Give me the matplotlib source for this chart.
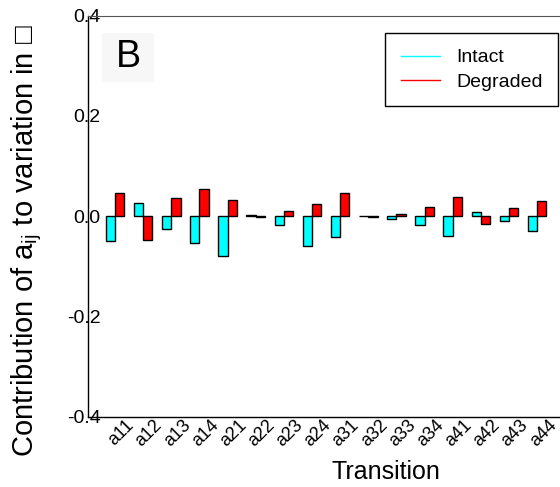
import numpy as np
import matplotlib
matplotlib.use('Agg')
import matplotlib.pyplot as plt
import matplotlib.transforms as mtransforms
from matplotlib.patches import Rectangle

plt.rcParams['font.family'] = ['Liberation Sans', 'DejaVu Sans']
plt.rcParams['mathtext.fontset'] = 'custom'
plt.rcParams['mathtext.rm'] = 'Liberation Sans'
plt.rcParams['mathtext.it'] = 'Liberation Sans:italic'
plt.rcParams['mathtext.fallback'] = 'stixsans'

# dane
przejscia = ['a11', 'a12', 'a13', 'a14', 'a21', 'a22', 'a23', 'a24',
             'a31', 'a32', 'a33', 'a34', 'a41', 'a42', 'a43', 'a44']
intact = [-0.049, 0.027, -0.026, -0.053, -0.080, 0.002, -0.017, -0.060,
          -0.041, 0.0008, -0.005, -0.017, -0.039, 0.008, -0.010, -0.029]
degraded = [0.047, -0.047, 0.037, 0.054, 0.032, -0.002, 0.010, 0.025,
            0.047, -0.0008, 0.005, 0.019, 0.038, -0.015, 0.016, 0.030]
y_ticks = [-0.4, -0.2, 0.0, 0.2, 0.4]

fig = plt.figure(figsize=(5.6, 4.87), dpi=100)
ax = fig.add_axes([0.157, 0.144, 0.843, 0.824])

x = np.arange(len(przejscia))
w = 0.33
ax.bar(x - w/2, intact, w, color='#00ffff', edgecolor='black', linewidth=1)
ax.bar(x + w/2, degraded, w, color='#ff0000', edgecolor='black', linewidth=1)

ax.set_xlim(-0.96, 15.81)
ax.set_ylim(-0.4, 0.4)
ax.set_yticks(y_ticks)
ax.set_yticklabels(['%.1f' % v for v in y_ticks], fontsize=14)
ax.tick_params(axis='y', length=0, pad=-9)
ax.set_xticks(x)
ax.set_xticklabels(przejscia, rotation=45, ha='center', fontsize=13)
ax.tick_params(axis='x', length=0, pad=0)
offset = mtransforms.ScaledTranslation(6/100, 0, fig.dpi_scale_trans)
for lab in ax.get_xticklabels():
    lab.set_transform(lab.get_transform() + offset)

ax.spines['right'].set_visible(False)
ax.spines['top'].set_color('#555555')
for s in ['left', 'bottom']:
    ax.spines[s].set_color('black')
    ax.spines[s].set_linewidth(1)

ax.set_xlabel('Transition', fontsize=18)
ax.xaxis.set_label_coords(0.631, -0.108)
ax.set_ylabel('Contribution of a$_{\\mathrm{ij}}$ to variation in \u25a1', fontsize=21)
ax.yaxis.set_label_coords(-0.092, 0.44)

# panel label z jasnym tlem
ax.add_patch(Rectangle((0.0297, 0.834), 0.110, 0.122, transform=ax.transAxes,
                       facecolor='#f7f7f7', edgecolor='none', zorder=0))
ax.text(0.085, 0.897, 'B', transform=ax.transAxes, fontsize=27,
        ha='center', va='center')

h1, = ax.plot([], [], color='cyan', lw=1, label='Intact')
h2, = ax.plot([], [], color='red', lw=1, label='Degraded')
leg = ax.legend(handles=[h1, h2], loc='upper right', bbox_to_anchor=(0.996, 0.956),
                borderaxespad=0, fontsize=14, fancybox=False, framealpha=1,
                edgecolor='black', handlelength=2, handletextpad=0.85,
                borderpad=0.8, labelspacing=0.35)
leg.get_frame().set_linewidth(1)

fig.savefig('out.png', dpi=100)
